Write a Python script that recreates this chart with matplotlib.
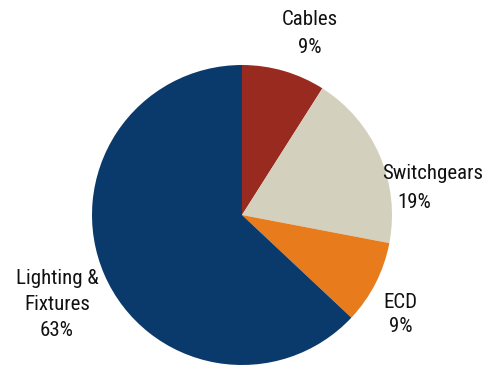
import matplotlib
matplotlib.use("Agg")
import matplotlib.pyplot as plt

# Segment shares of the market (percent)
categories = ["Cables", "Switchgears", "ECD", "Lighting &\nFixtures"]
shares = [9, 19, 9, 63]
colors = ["#992A20", "#D3D0BE", "#E87B1C", "#0A3A6B"]

# Label layout in pie-radius units: name x, value x, first baseline y, line pitch
label_layout = [
    (0.453, 0.453, 1.267, 0.187),
    (1.273, 1.147, 0.240, 0.193),
    (1.053, 1.060, -0.620, 0.160),
    (-1.233, -1.233, -0.460, 0.173),
]

FONT = ["Roboto Condensed", "Barlow Semi Condensed", "DejaVu Sans"]

W, H = 496, 369
fig = plt.figure(figsize=(W / 100, H / 100), dpi=100)
cx, cy, r = 242, 369 - 215, 150
ax = fig.add_axes([(cx - r) / W, (cy - r) / H, 2 * r / W, 2 * r / H])

ax.pie(shares, colors=colors, startangle=90, counterclock=False, radius=1,
       wedgeprops=dict(linewidth=0))
ax.set_xlim(-1, 1)
ax.set_ylim(-1, 1)
ax.set_aspect("equal")
ax.axis("off")

for name, val, (xn, xv, y0, pitch) in zip(categories, shares, label_layout):
    lines = name.split("\n")
    for i, line in enumerate(lines):
        ax.text(xn, y0 - i * pitch, line, ha="center", va="baseline",
                fontsize=15, family=FONT, color="#111111", clip_on=False)
    ax.text(xv, y0 - len(lines) * pitch, f"{val}%", ha="center", va="baseline",
            fontsize=15, family=FONT, color="#111111", clip_on=False)

fig.savefig("out.png", dpi=100)
